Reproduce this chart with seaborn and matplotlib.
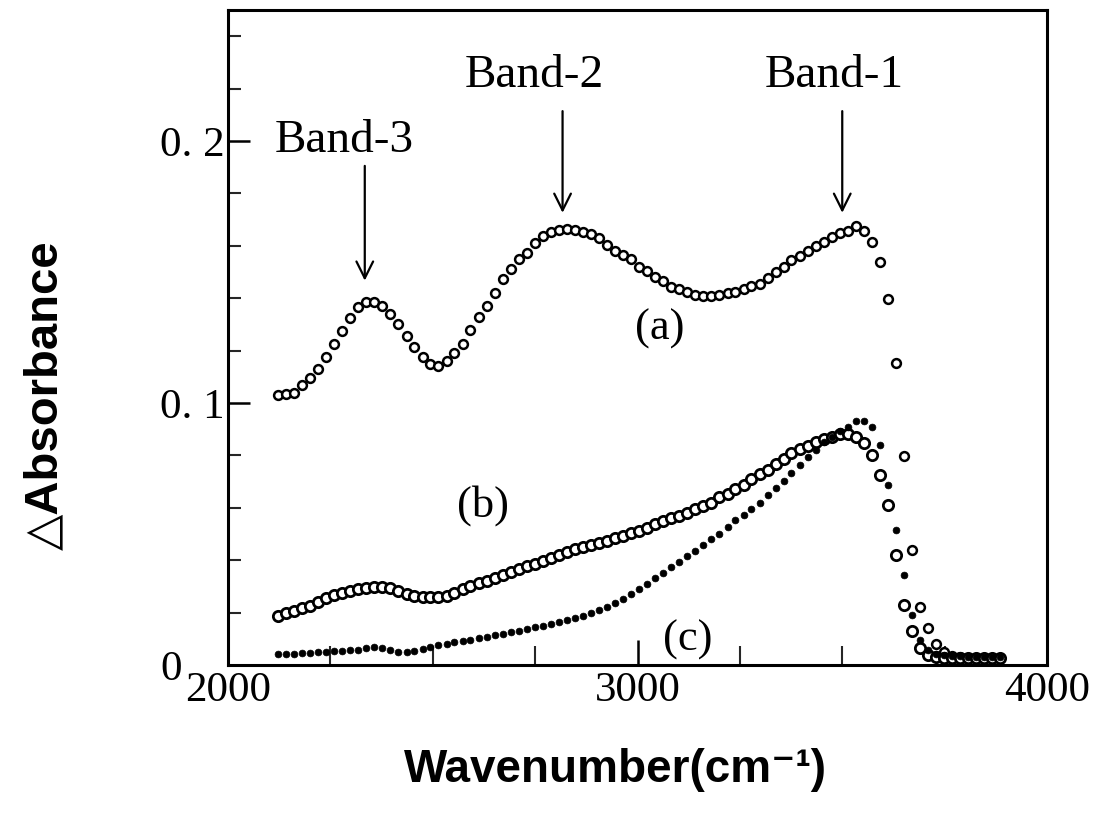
import matplotlib
matplotlib.use("Agg")
import matplotlib.pyplot as plt
import seaborn as sns
import pandas as pd
from matplotlib.ticker import FixedLocator, MultipleLocator

# ---------------- data ----------------
WAVENUMBER = [2122, 2142, 2161, 2181, 2200, 2220, 2240, 2259, 2279, 2298,
              2318, 2338, 2357, 2377, 2396, 2416, 2436, 2455, 2475, 2494,
              2514, 2534, 2553, 2573, 2592, 2612, 2632, 2651, 2671, 2690,
              2710, 2730, 2749, 2769, 2788, 2808, 2828, 2847, 2867, 2886,
              2906, 2926, 2945, 2965, 2984, 3004, 3024, 3043, 3063, 3082,
              3102, 3122, 3141, 3161, 3180, 3200, 3220, 3239, 3259, 3278,
              3298, 3318, 3337, 3357, 3376, 3396, 3416, 3435, 3455, 3474,
              3494, 3514, 3533, 3553, 3572, 3592, 3612, 3631, 3651, 3670,
              3690, 3710, 3729, 3749, 3768, 3788, 3808, 3827, 3847, 3866,
              3886]

ABS_A = [0.1032, 0.1036, 0.1040, 0.1070, 0.1097, 0.1128, 0.1177, 0.1227, 0.1276, 0.1326,
         0.1368, 0.1387, 0.1387, 0.1371, 0.1341, 0.1303, 0.1257, 0.1215, 0.1177, 0.1150,
         0.1143, 0.1162, 0.1189, 0.1227, 0.1280, 0.1330, 0.1371, 0.1421, 0.1474, 0.1512,
         0.1550, 0.1573, 0.1611, 0.1638, 0.1653, 0.1661, 0.1665, 0.1661, 0.1653, 0.1646,
         0.1630, 0.1604, 0.1581, 0.1566, 0.1550, 0.1520, 0.1505, 0.1482, 0.1467, 0.1444,
         0.1436, 0.1425, 0.1413, 0.1410, 0.1410, 0.1413, 0.1421, 0.1425, 0.1436, 0.1448,
         0.1455, 0.1478, 0.1501, 0.1520, 0.1547, 0.1562, 0.1581, 0.1600, 0.1615, 0.1634,
         0.1650, 0.1657, 0.1676, 0.1657, 0.1615, 0.1539, 0.1398, 0.1154, 0.0796, 0.0438,
         0.0221, 0.0141, 0.0080, 0.0050, 0.0036, 0.0030, 0.0028, 0.0027, 0.0026, 0.0026,
         0.0026]

ABS_B = [0.0187, 0.0198, 0.0206, 0.0217, 0.0225, 0.0240, 0.0255, 0.0267, 0.0274, 0.0282,
         0.0290, 0.0293, 0.0297, 0.0297, 0.0293, 0.0282, 0.0270, 0.0263, 0.0259, 0.0259,
         0.0259, 0.0263, 0.0274, 0.0290, 0.0301, 0.0312, 0.0320, 0.0331, 0.0343, 0.0354,
         0.0366, 0.0377, 0.0385, 0.0396, 0.0408, 0.0419, 0.0430, 0.0442, 0.0450, 0.0457,
         0.0465, 0.0472, 0.0484, 0.0491, 0.0503, 0.0510, 0.0522, 0.0537, 0.0549, 0.0560,
         0.0568, 0.0579, 0.0594, 0.0606, 0.0617, 0.0640, 0.0651, 0.0670, 0.0686, 0.0709,
         0.0728, 0.0743, 0.0766, 0.0785, 0.0808, 0.0823, 0.0834, 0.0850, 0.0861, 0.0872,
         0.0880, 0.0880, 0.0872, 0.0846, 0.0800, 0.0724, 0.0610, 0.0419, 0.0230, 0.0130,
         0.0065, 0.0040, 0.0032, 0.0028, 0.0027, 0.0026, 0.0026, 0.0025, 0.0025, 0.0025,
         0.0025]

ABS_C = [0.0042, 0.0042, 0.0042, 0.0046, 0.0046, 0.0050, 0.0050, 0.0053, 0.0053, 0.0057,
         0.0057, 0.0065, 0.0069, 0.0065, 0.0057, 0.0050, 0.0050, 0.0053, 0.0061, 0.0069,
         0.0076, 0.0080, 0.0088, 0.0091, 0.0095, 0.0103, 0.0107, 0.0114, 0.0118, 0.0126,
         0.0130, 0.0137, 0.0145, 0.0149, 0.0156, 0.0164, 0.0171, 0.0179, 0.0187, 0.0198,
         0.0210, 0.0221, 0.0236, 0.0251, 0.0270, 0.0290, 0.0310, 0.0331, 0.0350, 0.0373,
         0.0392, 0.0415, 0.0434, 0.0457, 0.0480, 0.0499, 0.0526, 0.0552, 0.0571, 0.0594,
         0.0617, 0.0648, 0.0674, 0.0701, 0.0731, 0.0762, 0.0792, 0.0819, 0.0850, 0.0872,
         0.0895, 0.0910, 0.0930, 0.0930, 0.0907, 0.0838, 0.0686, 0.0514, 0.0343, 0.0190,
         0.0095, 0.0057, 0.0042, 0.0038, 0.0035, 0.0033, 0.0032, 0.0031, 0.0030, 0.0030,
         0.0030]

SERIES_LABELS = ["(a)", "(b)", "(c)"]
BAND_LABELS = ["Band-1", "Band-2", "Band-3"]
BAND_WAVENUMBERS = [3500, 2817, 2334]
X_TICKS = [2000, 3000, 4000]
X_TICK_LABELS = ["2000", "3000", "4000"]
Y_TICKS = [0.0, 0.1, 0.2]
Y_TICK_LABELS = ["0", "0. 1", "0. 2"]
X_LABEL = "Wavenumber(cm⁻¹)"
Y_LABEL = "△Absorbance"

# ---------------- figure ----------------
sns.set_theme(style="ticks")
plt.rcParams["font.family"] = ["Liberation Serif", "DejaVu Serif"]
plt.rcParams["text.color"] = "black"

fig = plt.figure(figsize=(10.97, 8.25), dpi=100)
ax = fig.add_axes([228 / 1097, 1 - 665 / 825, (1047 - 228) / 1097, (665 - 10) / 825])

df = pd.DataFrame({
    "wn": WAVENUMBER * 3,
    "absorb": ABS_A + ABS_B + ABS_C,
    "series": [SERIES_LABELS[0]] * len(ABS_A) + [SERIES_LABELS[1]] * len(ABS_B)
              + [SERIES_LABELS[2]] * len(ABS_C),
})

sns.scatterplot(data=df[df.series == "(a)"], x="wn", y="absorb", ax=ax,
                marker="o", s=40, color="white", edgecolor="black",
                linewidth=1.8, legend=False, zorder=3)
sns.scatterplot(data=df[df.series == "(b)"], x="wn", y="absorb", ax=ax,
                marker="o", s=55, color="white", edgecolor="black",
                linewidth=2.0, legend=False, zorder=3)
sns.scatterplot(data=df[df.series == "(c)"], x="wn", y="absorb", ax=ax,
                marker="o", s=24, color="black", edgecolor="black",
                linewidth=0.5, legend=False, zorder=4)

ax.set_xlim(2000, 4000)
ax.set_ylim(0, 0.25)

# ticks
ax.xaxis.set_major_locator(FixedLocator(X_TICKS))
ax.set_xticklabels(X_TICK_LABELS)
ax.xaxis.set_minor_locator(MultipleLocator(250))
ax.yaxis.set_major_locator(FixedLocator(Y_TICKS))
ax.set_yticklabels(Y_TICK_LABELS)
ax.yaxis.set_minor_locator(MultipleLocator(0.02))

ax.tick_params(axis="both", which="major", direction="in", width=1.8,
               colors="black", labelsize=31)
ax.tick_params(axis="x", which="major", length=18, pad=5)
ax.tick_params(axis="x", which="minor", direction="in", length=14, width=1.5)
ax.tick_params(axis="y", which="major", length=16, pad=49)
ax.tick_params(axis="y", which="minor", direction="in", length=9, width=1.5)
for lbl in ax.get_yticklabels():
    lbl.set_horizontalalignment("left")
for sp in ax.spines.values():
    sp.set_linewidth(2.2)
    sp.set_color("black")
    sp.set_visible(True)

ax.set_xlabel("")
ax.set_ylabel("")
fig.text(0.5 * (395 + 835) / 1097, 1 - 770 / 825, X_LABEL, ha="center", va="center",
         fontsize=33, fontweight="bold", color="black",
         family=["Liberation Sans", "DejaVu Sans"])
fig.text(45 / 1097, 1 - 395 / 825, Y_LABEL, ha="center", va="center", rotation=90,
         fontsize=34, fontweight="bold", color="black",
         family=["Liberation Sans", "DejaVu Sans"])

# band annotations
band_text_pos = {"Band-1": (3480, 0.2248), "Band-2": (2749, 0.2248), "Band-3": (2285, 0.200)}
band_arrow_y = {"Band-1": (0.2114, 0.1726), "Band-2": (0.2114, 0.1726), "Band-3": (0.1905, 0.1467)}
for name, wn in zip(BAND_LABELS, BAND_WAVENUMBERS):
    tx, ty = band_text_pos[name]
    ax.text(tx, ty, name, ha="center", va="center", fontsize=34, color="black")
    y0, y1 = band_arrow_y[name]
    ax.annotate("", xy=(wn, y1), xytext=(wn, y0),
                arrowprops=dict(arrowstyle="->", lw=1.6, color="black",
                                mutation_scale=30, shrinkA=0, shrinkB=0))

series_text_pos = {"(a)": (3054, 0.1284), "(b)": (2622, 0.061), "(c)": (3122, 0.0095)}
for name in SERIES_LABELS:
    tx, ty = series_text_pos[name]
    ax.text(tx, ty, name, ha="center", va="center", fontsize=32, color="black")

fig.savefig("out.png", dpi=100, facecolor="white")
